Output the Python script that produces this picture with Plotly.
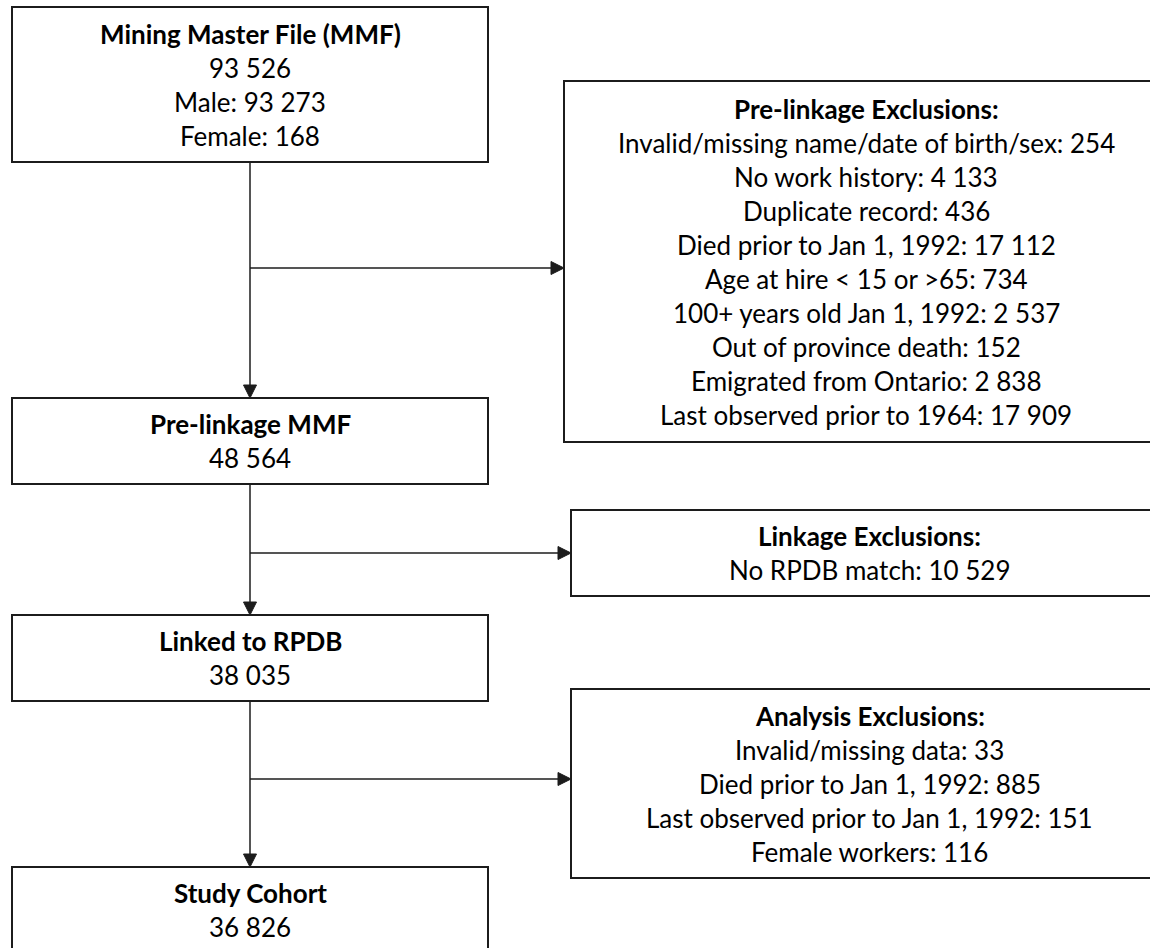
import plotly.graph_objects as go

# ---------------- data (text content of the flowchart) ----------------
main_titles = ["Mining Master File (MMF)", "Pre-linkage MMF", "Linked to RPDB", "Study Cohort"]
main_lines = [
    ["93 526", "Male: 93 273", "Female: 168"],
    ["48 564"],
    ["38 035"],
    ["36 826"],
]
excl_titles = ["Pre-linkage Exclusions:", "Linkage Exclusions:", "Analysis Exclusions:"]
excl_lines = [
    ["Invalid/missing name/date of birth/sex: 254",
     "No work history: 4 133",
     "Duplicate record: 436",
     "Died prior to Jan 1, 1992: 17 112",
     "Age at hire < 15 or >65: 734",
     "100+ years old Jan 1, 1992: 2 537",
     "Out of province death: 152",
     "Emigrated from Ontario: 2 838",
     "Last observed prior to 1964: 17 909"],
    ["No RPDB match: 10 529"],
    ["Invalid/missing data: 33",
     "Died prior to Jan 1, 1992: 885",
     "Last observed prior to Jan 1, 1992: 151",
     "Female workers: 116"],
]

# ---------------- layout geometry (pixels) ----------------
main_boxes = [(12, 7, 488, 162), (12, 398, 488, 484), (12, 615, 488, 701), (12, 867, 488, 953)]
excl_boxes = [(564, 81, 1168, 442), (571, 510, 1168, 596), (571, 689, 1168, 878)]
branch_y = [268, 553, 779]
spine_x = 250
LINE_H = 34
FONT = "Lato"
FS = 26
INK = "#1c1c1c"
AL, AW = 13, 6.5  # arrowhead length / half width

W, H = 1150, 948

fig = go.Figure()
shapes = []
annots = []

def add_box(b):
    shapes.append(dict(type="rect", xref="x", yref="y", x0=b[0], y0=b[1], x1=b[2], y1=b[3],
                       line=dict(color=INK, width=2), fillcolor="rgba(0,0,0,0)", layer="above"))

def add_text(b, title, lines):
    cx = (b[0] + b[2]) / 2
    cy = (b[1] + b[3]) / 2
    allt = [title] + lines
    n = len(allt)
    for i, t in enumerate(allt):
        y = cy + (i - (n - 1) / 2) * LINE_H
        txt = "<b>%s</b>" % t if i == 0 else t.replace("<", "&lt;").replace(">", "&gt;")
        annots.append(dict(x=cx, y=y, xref="x", yref="y", text=txt, showarrow=False,
                           font=dict(family=FONT, size=FS, color="#000000"),
                           xanchor="center", yanchor="middle"))

def add_line(x0, y0, x1, y1):
    shapes.append(dict(type="line", xref="x", yref="y", x0=x0, y0=y0, x1=x1, y1=y1,
                       line=dict(color=INK, width=1.5)))

def arrow_down(x, y):
    shapes.append(dict(type="path", xref="x", yref="y",
                       path="M %f %f L %f %f L %f %f Z" % (x, y, x - AW, y - AL, x + AW, y - AL),
                       fillcolor=INK, line=dict(color=INK, width=1)))

def arrow_right(x, y):
    shapes.append(dict(type="path", xref="x", yref="y",
                       path="M %f %f L %f %f L %f %f Z" % (x, y, x - AL, y - AW, x - AL, y + AW),
                       fillcolor=INK, line=dict(color=INK, width=1)))

for b, t, l in zip(main_boxes, main_titles, main_lines):
    add_box(b)
    add_text(b, t, l)
for b, t, l in zip(excl_boxes, excl_titles, excl_lines):
    add_box(b)
    add_text(b, t, l)

# spine connectors between main boxes, with branches to the exclusion boxes
for i in range(len(main_boxes) - 1):
    top = main_boxes[i][3]
    nxt = main_boxes[i + 1][1]
    add_line(spine_x, top, spine_x, nxt - AL)
    arrow_down(spine_x, nxt)
    ex = excl_boxes[i][0]
    add_line(spine_x, branch_y[i], ex - AL, branch_y[i])
    arrow_right(ex, branch_y[i])

fig.update_layout(
    width=W, height=H,
    margin=dict(l=0, r=0, t=0, b=0),
    paper_bgcolor="white", plot_bgcolor="white",
    xaxis=dict(range=[0, W], visible=False, fixedrange=True),
    yaxis=dict(range=[H, 0], visible=False, fixedrange=True),
    shapes=shapes, annotations=annots, showlegend=False,
)
fig.write_html("out.html",
               config={"displayModeBar": False, "staticPlot": True},
               post_script="document.body.style.margin='0';document.body.style.overflow='hidden';")
